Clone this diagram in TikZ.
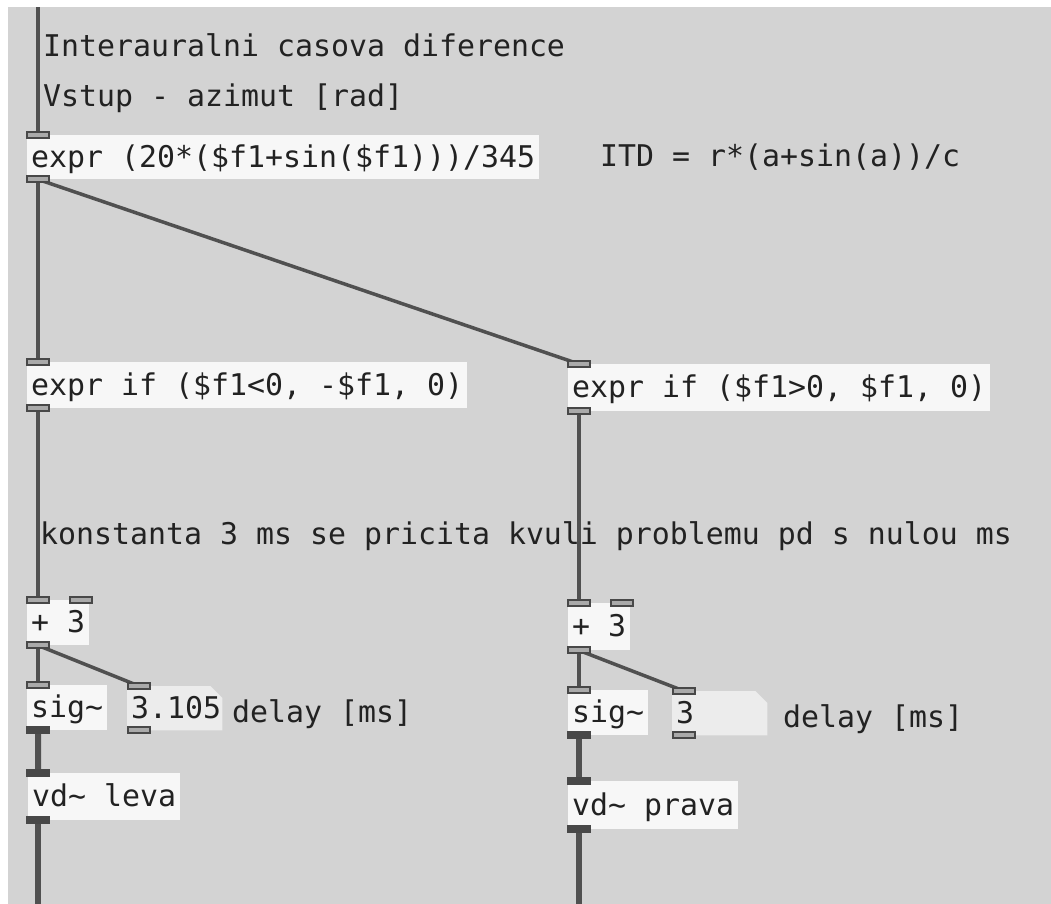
\documentclass[tikz,border=0pt]{standalone}
\usepackage{fontspec}
\newfontfamily\pdfont{DejaVu Sans Mono}
\definecolor{canvas}{RGB}{211,211,211}
\definecolor{boxfill}{RGB}{247,247,247}
\definecolor{numfill}{RGB}{236,236,236}
\definecolor{wire}{RGB}{80,80,80}
\definecolor{portdark}{RGB}{72,72,72}
\definecolor{portfill}{RGB}{170,170,170}
\definecolor{ink}{RGB}{34,34,34}
\pgfdeclarelayer{bg}
\pgfdeclarelayer{wires}
\pgfsetlayers{bg,wires,main}
\begin{document}
\begin{tikzpicture}[x=1bp,y=-1bp,
  every node/.style={font=\pdfont\fontsize{30}{36}\selectfont, text=ink},
  obj/.style={anchor=north west, fill=boxfill, inner xsep=4bp, inner ysep=0pt,
              text height=23bp, text depth=3bp, minimum height=#1},
  numbox/.style={anchor=north west, inner xsep=4bp, inner ysep=0pt,
              text height=23bp, text depth=3bp, minimum height=44bp,
              text width=87bp, align=left},
  cmt/.style={anchor=west, inner sep=0pt, text height=23bp, text depth=3bp},
  cport/.style={draw=portdark, line width=2bp, fill=portfill, minimum width=22bp,
               minimum height=6bp, inner sep=0pt, anchor=center},
  sport/.style={draw=portdark, line width=2bp, fill=portdark, minimum width=22bp,
               minimum height=6bp, inner sep=0pt, anchor=center},
  ctlwire/.style={draw=wire, line width=3.5bp},
  sigwire/.style={draw=wire, line width=6bp},
]
\useasboundingbox (0,0) rectangle (1051,904);
\begin{pgfonlayer}{bg}
  \fill[white] (0,0) rectangle (1051,904);
  \fill[canvas] (8,7) rectangle (1051,904);
\end{pgfonlayer}

% comments
\node[cmt] (c1) at (43,46) {Interauralni casova diference};
\node[cmt] (c2) at (43,96) {Vstup - azimut [rad]};
\node[cmt] (c3) at (600,156) {ITD = r*(a+sin(a))/c};
\node[cmt] (c4) at (40,534) {konstanta 3 ms se pricita kvuli problemu pd s nulou ms};
\node[cmt] (c5) at (232,712) {delay [ms]};
\node[cmt] (c6) at (783,717) {delay [ms]};

% objects
\node[obj=44bp] (E1) at (27,135) {expr (20*(\$f1+sin(\$f1)))/345};
\node[obj=46bp] (L1) at (27,362) {expr if (\$f1<0, -\$f1, 0)};
\node[obj=47bp] (R1) at (568,364) {expr if (\$f1>0, \$f1, 0)};
\node[obj=45bp] (LP) at (27,600) {+ 3};
\node[obj=47bp] (RP) at (568,603) {+ 3};
\node[obj=45bp] (LS) at (27,685) {sig\string~};
\node[obj=45bp] (RS) at (568,690) {sig\string~};
\node[numbox] (LN) at (127,686) {3.105};
\node[numbox] (RN) at (672,691) {3};
\node[obj=47bp] (LV) at (28,773) {vd\string~ leva};
\node[obj=48bp] (RV) at (568,781) {vd\string~ prava};

% ports
\node[cport] (E1i) at ([xshift=11bp]E1.north west) {};
\node[cport] (E1o) at ([xshift=11bp]E1.south west) {};
\node[cport] (L1i) at ([xshift=11bp]L1.north west) {};
\node[cport] (L1o) at ([xshift=11bp]L1.south west) {};
\node[cport] (R1i) at ([xshift=11bp]R1.north west) {};
\node[cport] (R1o) at ([xshift=11bp]R1.south west) {};
\node[cport] (LPi) at ([xshift=11bp]LP.north west) {};
\node[cport] (LPj) at ([xshift=-8bp]LP.north east) {};
\node[cport] (LPo) at ([xshift=11bp]LP.south west) {};
\node[cport] (RPi) at ([xshift=11bp]RP.north west) {};
\node[cport] (RPj) at ([xshift=-8bp]RP.north east) {};
\node[cport] (RPo) at ([xshift=11bp]RP.south west) {};
\node[cport] (LSi) at ([xshift=11bp]LS.north west) {};
\node[sport] (LSo) at ([xshift=11bp]LS.south west) {};
\node[cport] (RSi) at ([xshift=11bp]RS.north west) {};
\node[sport] (RSo) at ([xshift=11bp]RS.south west) {};
\node[cport] (LNi) at ([xshift=12bp]LN.north west) {};
\node[cport] (LNo) at ([xshift=12bp]LN.south west) {};
\node[cport] (RNi) at ([xshift=12bp]RN.north west) {};
\node[cport] (RNo) at ([xshift=12bp]RN.south west) {};
\node[sport] (LVi) at ([xshift=10bp]LV.north west) {};
\node[sport] (LVo) at ([xshift=10bp]LV.south west) {};
\node[sport] (RVi) at ([xshift=11bp]RV.north west) {};
\node[sport] (RVo) at ([xshift=11bp]RV.south west) {};

\coordinate (top) at (E1i |- 0,7);
\coordinate (lbot) at (LVo |- 0,904);
\coordinate (rbot) at (RVo |- 0,904);

\begin{pgfonlayer}{wires}
  % number box fills (folded corner)
  \fill[numfill] (LN.north west) -- ([xshift=-12bp]LN.north east) -- ([yshift=-12bp]LN.north east) -- (LN.south east) -- (LN.south west) -- cycle;
  \fill[numfill] (RN.north west) -- ([xshift=-12bp]RN.north east) -- ([yshift=-12bp]RN.north east) -- (RN.south east) -- (RN.south west) -- cycle;
  % connections
  \draw[ctlwire] (top) -- (E1i.center);
  \draw[ctlwire] (E1o.center) -- (L1i.center);
  \draw[ctlwire] (E1o.center) -- (R1i.center);
  \draw[ctlwire] (L1o.center) -- (LPi.center);
  \draw[ctlwire] (R1o.center) -- (RPi.center);
  \draw[ctlwire] (LPo.center) -- (LSi.center);
  \draw[ctlwire] (LPo.center) -- (LNi.center);
  \draw[ctlwire] (RPo.center) -- (RSi.center);
  \draw[ctlwire] (RPo.center) -- (RNi.center);
  \draw[sigwire] (LSo.center) -- (LVi.center);
  \draw[sigwire] (RSo.center) -- (RVi.center);
  \draw[sigwire] (LVo.center) -- (lbot);
  \draw[sigwire] (RVo.center) -- (rbot);
\end{pgfonlayer}
\end{tikzpicture}
\end{document}
